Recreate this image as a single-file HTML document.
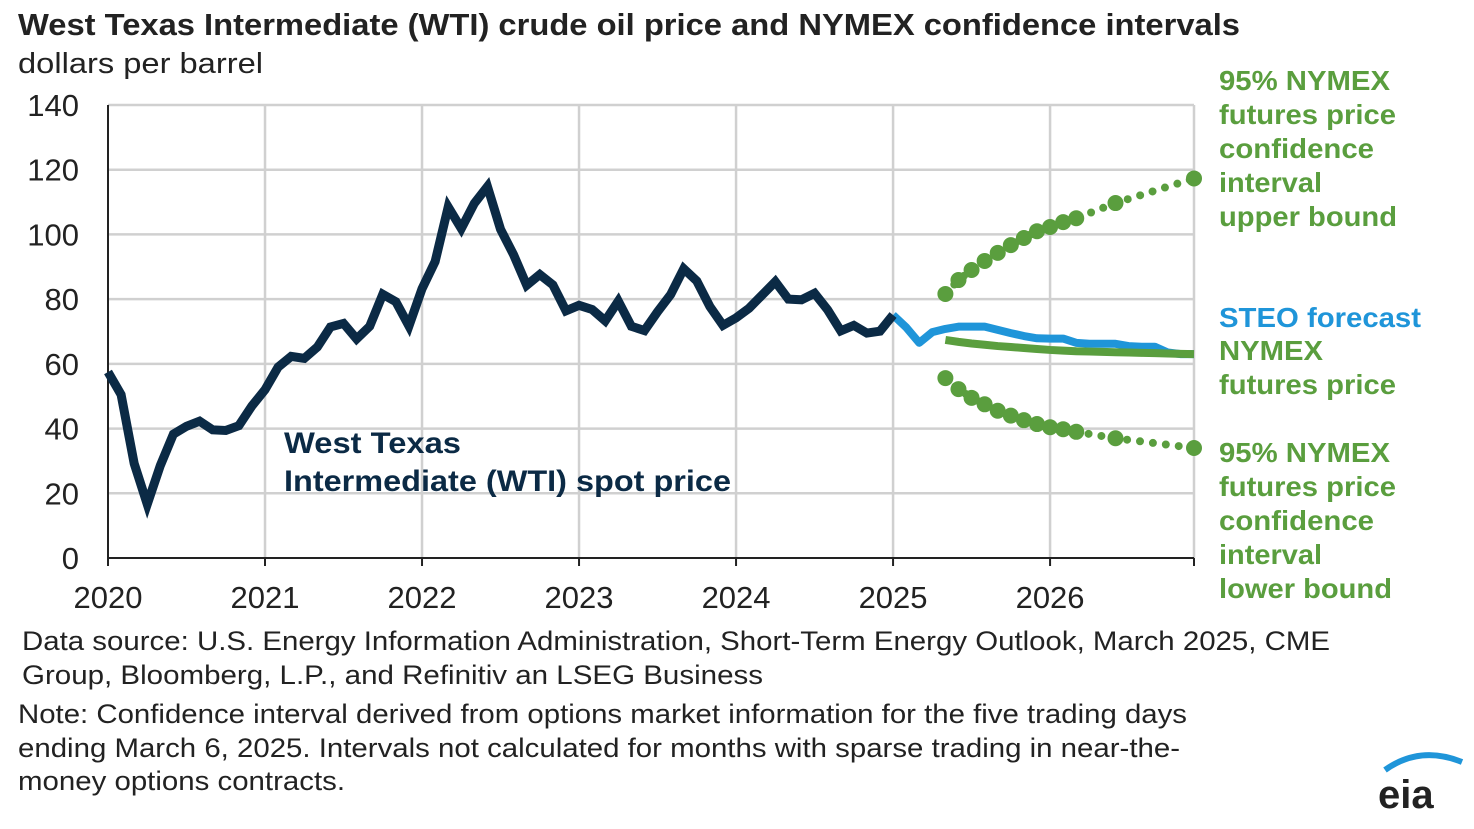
<!DOCTYPE html>
<html><head><meta charset="utf-8"><style>
body{margin:0;background:#fff;width:1474px;height:824px;overflow:hidden;font-family:"Liberation Sans",Arial,sans-serif}
svg text{font-family:"Liberation Sans",Arial,sans-serif}
</style></head><body>
<svg id="c" width="1474" height="824">
<text x="18" y="35" font-size="31" font-weight="bold" fill="#222" textLength="1222" lengthAdjust="spacingAndGlyphs">West Texas Intermediate (WTI) crude oil price and NYMEX confidence intervals</text>
<text x="18" y="73" font-size="29" fill="#222" textLength="245" lengthAdjust="spacingAndGlyphs">dollars per barrel</text>
<g id="grid"></g><g id="marks"></g>
<text x="284" y="453" font-size="30" font-weight="bold" fill="#0b2a45" textLength="177" lengthAdjust="spacingAndGlyphs">West Texas</text>
<text x="284" y="491" font-size="30" font-weight="bold" fill="#0b2a45" textLength="447" lengthAdjust="spacingAndGlyphs">Intermediate (WTI) spot price</text>
<g font-size="28" font-weight="bold" fill="#5a9e3e">
<text x="1219" y="90" textLength="171" lengthAdjust="spacingAndGlyphs">95% NYMEX</text><text x="1219" y="124" textLength="177" lengthAdjust="spacingAndGlyphs">futures price</text><text x="1219" y="158" textLength="155" lengthAdjust="spacingAndGlyphs">confidence</text><text x="1219" y="192" textLength="103" lengthAdjust="spacingAndGlyphs">interval</text><text x="1219" y="226" textLength="178" lengthAdjust="spacingAndGlyphs">upper bound</text></g>
<text x="1219" y="327" font-size="28" font-weight="bold" fill="#1f95d9" textLength="202" lengthAdjust="spacingAndGlyphs">STEO forecast</text>
<g font-size="28" font-weight="bold" fill="#5a9e3e"><text x="1219" y="360" textLength="104" lengthAdjust="spacingAndGlyphs">NYMEX</text><text x="1219" y="394" textLength="177" lengthAdjust="spacingAndGlyphs">futures price</text></g>
<g font-size="28" font-weight="bold" fill="#5a9e3e">
<text x="1219" y="462" textLength="171" lengthAdjust="spacingAndGlyphs">95% NYMEX</text><text x="1219" y="496" textLength="177" lengthAdjust="spacingAndGlyphs">futures price</text><text x="1219" y="530" textLength="155" lengthAdjust="spacingAndGlyphs">confidence</text><text x="1219" y="564" textLength="103" lengthAdjust="spacingAndGlyphs">interval</text><text x="1219" y="598" textLength="173" lengthAdjust="spacingAndGlyphs">lower bound</text></g>
<g font-size="27" fill="#222">
<text x="22" y="650" textLength="1308" lengthAdjust="spacingAndGlyphs">Data source: U.S. Energy Information Administration, Short-Term Energy Outlook, March 2025, CME</text>
<text x="22" y="684" textLength="741" lengthAdjust="spacingAndGlyphs">Group, Bloomberg, L.P., and Refinitiv an LSEG Business</text>
<text x="18" y="723" textLength="1169" lengthAdjust="spacingAndGlyphs">Note: Confidence interval derived from options market information for the five trading days</text>
<text x="18" y="757" textLength="1162" lengthAdjust="spacingAndGlyphs">ending March 6, 2025. Intervals not calculated for months with sparse trading in near-the-</text>
<text x="18" y="790" textLength="327" lengthAdjust="spacingAndGlyphs">money options contracts.</text></g>
<g><path d="M1385 770 Q1420 745 1462 762" stroke="#1f95d9" stroke-width="6" fill="none"/>
<text x="1378" y="808" font-size="40" font-weight="bold" fill="#222">eia</text></g>
</svg>
<script>
const years=["2020","2021","2022","2023","2024","2025","2026"];
const yTicks=[0,20,40,60,80,100,120,140];
const wti=[57.5,50.5,29.2,16.6,28.6,38.3,40.7,42.3,39.6,39.4,40.9,47.0,52.0,59.0,62.3,61.7,65.2,71.4,72.5,67.7,71.6,81.5,79.2,71.7,83.2,91.6,108.5,101.8,109.6,114.8,101.6,93.7,84.3,87.6,84.4,76.4,78.1,76.8,73.3,79.4,71.6,70.3,76.1,81.4,89.4,85.6,77.7,71.9,74.2,77.2,81.3,85.4,80.0,79.8,81.8,76.7,70.2,71.9,69.5,70.1,75.1];
const steoStart=60;
const steo=[75.1,71.3,66.5,69.8,70.8,71.5,71.5,71.5,70.5,69.5,68.6,67.9,67.8,67.8,66.5,66.2,66.2,66.2,65.5,65.3,65.3,63.5,63.0,63.0];
const nymexStart=64;
const nymex=[67.4,66.8,66.3,65.9,65.5,65.2,64.9,64.6,64.3,64.1,63.9,63.8,63.7,63.6,63.5,63.4,63.3,63.2,63.1,63.0];
const upperMonths=[64,65,66,67,68,69,70,71,72,73,74,77,83];
const upper=[81.6,85.9,89,91.8,94.3,96.7,98.9,101,102.3,103.8,105,109.7,117.3];
const lower=[55.6,52.2,49.5,47.5,45.5,44,42.6,41.4,40.4,39.8,39,37,34];
const X=m=>108+m*(1194-108)/83, Y=v=>558-v*(558-105)/140;
const NS="http://www.w3.org/2000/svg";
function mk(t,a,p){const e=document.createElementNS(NS,t);for(const k in a)e.setAttribute(k,a[k]);p.appendChild(e);return e;}
const g=document.getElementById('grid'),mg=document.getElementById('marks');
yTicks.forEach(v=>{if(v>0){const l=mk('line',{x1:108,x2:1194,y1:Y(v),y2:Y(v),stroke:'#d0d0d0','stroke-width':2.5},g);

}
const t=mk('text',{x:79,y:Y(v)+11,'font-size':31,'text-anchor':'end',fill:'#222'},g);t.textContent=v;

});
years.forEach((y,i)=>{const x=X(i*12);if(i>0){const l=mk('line',{x1:x,x2:x,y1:105,y2:558,stroke:'#d0d0d0','stroke-width':2.5},g);

}
mk('line',{x1:x,x2:x,y1:558,y2:566,stroke:'#222','stroke-width':2},g);
const t=mk('text',{x:x,y:608,'font-size':31,'text-anchor':'middle',fill:'#222'},g);t.textContent=y;

});
mk('line',{x1:1194,x2:1194,y1:105,y2:558,stroke:'#d0d0d0','stroke-width':2.5},g);
mk('line',{x1:108,x2:108,y1:105,y2:558,stroke:'#222','stroke-width':2},g);
mk('line',{x1:108,x2:1194,y1:558,y2:558,stroke:'#222','stroke-width':2},g);
mk('line',{x1:1194,x2:1194,y1:558,y2:566,stroke:'#222','stroke-width':2},g);
const pts=(arr,s)=>arr.map((v,i)=>X(s+i)+','+Y(v)).join(' ');
const s1=mk('polyline',{points:pts(steo,steoStart),fill:'none',stroke:'#1f95d9','stroke-width':8,'stroke-linejoin':'round'},mg);


const w=mk('polyline',{points:pts(wti,0),fill:'none',stroke:'#0b2a45','stroke-width':9,'stroke-linejoin':'miter'},mg);


const n=mk('polyline',{points:pts(nymex,nymexStart),fill:'none',stroke:'#5a9e3e','stroke-width':8},mg);


[[upper,'upper'],[lower,'lower']].forEach(([arr,nm])=>{
const dl=mk('polyline',{points:arr.map((v,i)=>X(upperMonths[i])+','+Y(v)).join(' '),fill:'none',stroke:'#5a9e3e','stroke-width':8,'stroke-linecap':'round','stroke-dasharray':'0 13'},mg);


arr.forEach((v,i)=>{const c=mk('circle',{cx:X(upperMonths[i]),cy:Y(v),r:8,fill:'#5a9e3e'},mg);

});});
</script>
</body></html>
